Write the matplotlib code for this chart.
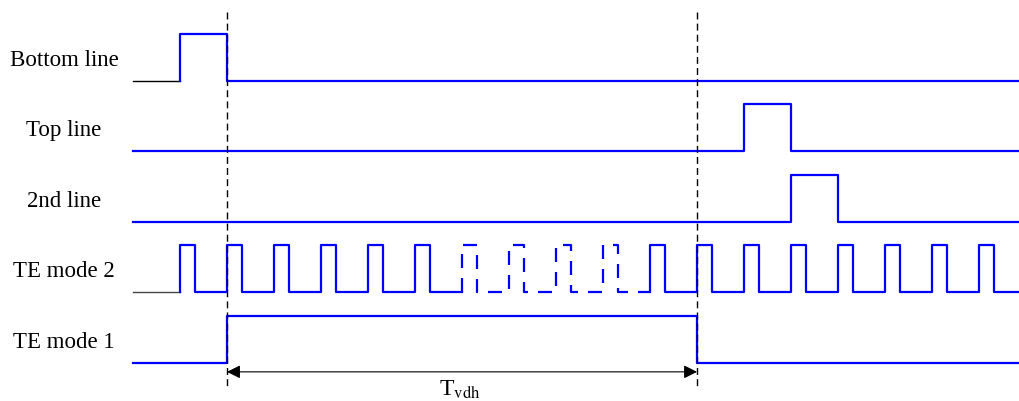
import numpy as np
import matplotlib.pyplot as plt

plt.rcParams['font.family'] = ['Liberation Serif', 'DejaVu Serif']
plt.rcParams['mathtext.fontset'] = 'stix'

# Signalnamen (von oben nach unten)
labels = ['Bottom line', 'Top line', '2nd line', 'TE mode 2', 'TE mode 1']

# Zeiten in Einheiten der TE-Periode: (steigende Flanke, fallende Flanke)
bottom_pulses = [(0, 1)]
top_pulses = [(12, 13)]
second_pulses = [(13, 14)]
te1_pulses = [(1, 11)]
te2_rises = list(range(0, 18))
te2_width = 0.32
te2_dashed = (6, 10)      # Abschnitt, der gestrichelt gezeichnet ist
markers = [1, 11]         # gestrichelte Hilfslinien
t_start, t_end = -1, 17.85
tvdh_label = 'T$_{\\mathrm{vdh}}$'

BLUE = '#0000ff'
ROW = 1.5   # Abstand der Zeilen
EPS = 1e-9


def wave(pulses, a, b):
    def level(t):
        return 1 if any(r <= t < f for r, f in pulses) else 0
    edges = sorted(e for p in pulses for e in p if a <= e < b)
    xs, ys = [a], [level(a - EPS)]
    for e in edges:
        xs += [e, e]
        ys += [ys[-1], level(e)]
    xs.append(b)
    ys.append(level(b - EPS))
    return np.array(xs), np.array(ys)


fig = plt.figure(figsize=(10.19, 4.01), dpi=100)
ax = fig.add_axes([0, 0, 1, 1])
ax.set_xlim(-3.83, 17.85)
ax.set_ylim(-6.81, 1.72)
ax.axis('off')

te2_pulses = [(r, r + te2_width) for r in te2_rises]
signals = [bottom_pulses, top_pulses, second_pulses, te2_pulses, te1_pulses]

for i, (name, pulses) in enumerate(zip(labels, signals)):
    off = -i * ROW
    ax.text(-2.47, off + 0.44, name, ha='center', va='center', fontsize=16.5)
    if name == 'Bottom line':
        x, y = wave(pulses, t_start, 0)
        ax.plot(x, y + off, color='black', lw=1)
        x, y = wave(pulses, 0, t_end)
        ax.plot(x, y + off, color=BLUE, lw=1.6)
    elif name == 'TE mode 2':
        x, y = wave(pulses, t_start, 0)
        ax.plot(x, y + off, color='#444444', lw=1)
        for a, b, ls in [(0, te2_dashed[0], '-'),
                         (te2_dashed[0], te2_dashed[1], (0, (6.3, 4.5))),
                         (te2_dashed[1], t_end, '-')]:
            x, y = wave(pulses, a, b)
            ax.plot(x, y + off, color=BLUE, lw=1.6, linestyle=ls)
    else:
        x, y = wave(pulses, t_start, t_end)
        ax.plot(x, y + off, color=BLUE, lw=1.6)

for m in markers:
    ax.plot([m, m], [1.47, -6.51], color='black', lw=1, dashes=(5, 3))

y_arrow = -6.19
ax.annotate('', xy=(markers[0], y_arrow), xytext=(markers[1], y_arrow),
            arrowprops=dict(arrowstyle='<|-|>', color='black', lw=0.8,
                            shrinkA=0, shrinkB=0, mutation_scale=20))
ax.text(np.mean(markers) - 0.05, -6.33, tvdh_label, ha='center', va='top', fontsize=17)

plt.savefig('out.png', dpi=100)
